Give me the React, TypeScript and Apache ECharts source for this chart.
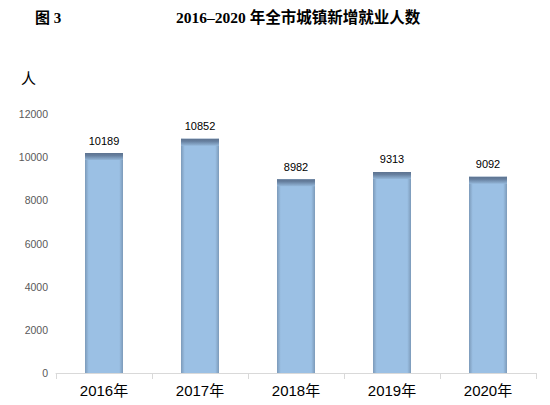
import React, { useEffect, useRef } from "react";
import * as echarts from "echarts";

const categories = ["2016年", "2017年", "2018年", "2019年", "2020年"];
const values = [10189, 10852, 8982, 9313, 9092];
const yTicks = [0, 2000, 4000, 6000, 8000, 10000, 12000];

export default function App() {
  const ref = useRef<HTMLDivElement>(null);
  useEffect(() => {
    const chart = echarts.init(ref.current!, null, { renderer: "svg" });
    const barFill = new echarts.graphic.LinearGradient(0, 0, 1, 0, [
      { offset: 0, color: "#7c9ab9" },
      { offset: 0.1, color: "#9bc0e4" },
      { offset: 0.9, color: "#9bc0e4" },
      { offset: 1, color: "#7c9ab9" },
    ]);
    chart.setOption({
      animation: false,
      graphic: [
        { type: "text", left: 35, top: 10, style: { text: "图 3", font: "bold 15px 'Liberation Serif', 'Noto Sans CJK SC', serif", fill: "#000" } },
        { type: "text", left: 176, top: 10, style: { text: "2016–2020 年全市城镇新增就业人数", font: "bold 15.5px 'Liberation Serif', 'Noto Sans CJK SC', serif", fill: "#000" } },
        { type: "text", left: 21, top: 70, style: { text: "人", font: "15px 'Noto Sans CJK SC', sans-serif", fill: "#000" } },
      ],
      grid: { left: 56, right: 14, top: 114, bottom: 32 },
      xAxis: {
        type: "category",
        data: categories,
        axisLine: { lineStyle: { color: "#d9d9d9" } },
        axisTick: { show: true, length: 6, lineStyle: { color: "#d9d9d9" } },
        axisLabel: { color: "#000", fontSize: 15, margin: 10, fontFamily: "'Liberation Sans', 'Noto Sans CJK SC', sans-serif" },
      },
      yAxis: {
        type: "value",
        min: yTicks[0],
        max: yTicks[yTicks.length - 1],
        interval: 2000,
        axisLine: { show: false },
        axisTick: { show: false },
        splitLine: { show: false },
        axisLabel: {
          color: "#595959",
          fontSize: 10.5,
          margin: 8,
          fontFamily: "'Liberation Sans', sans-serif",
          formatter: (v: number) => String(v),
        },
      },
      series: [
        {
          type: "bar",
          data: values,
          barWidth: 38,
          itemStyle: { color: barFill },
          label: { show: true, position: "top", distance: 7, color: "#000", fontSize: 11, fontFamily: "'Liberation Sans', sans-serif" },
          z: 2,
        },
        {
          type: "custom",
          data: values.map((v, i) => [i, v]),
          z: 3,
          renderItem: (params: any, api: any) => {
            const p = api.coord([api.value(0), api.value(1)]);
            const w = 38;
            return {
              type: "rect",
              shape: { x: p[0] - w / 2, y: p[1], width: w, height: 7 },
              style: {
                fill: new echarts.graphic.LinearGradient(0, 0, 0, 1, [
                  { offset: 0, color: "#5d7390" },
                  { offset: 0.35, color: "#667f9e" },
                  { offset: 1, color: "#93b6d8" },
                ]),
              },
            };
          },
        },
      ],
    });
    return () => chart.dispose();
  }, []);
  return <div ref={ref} style={{ width: 550, height: 405, position: "absolute", left: 0, top: 0 }} />;
}
